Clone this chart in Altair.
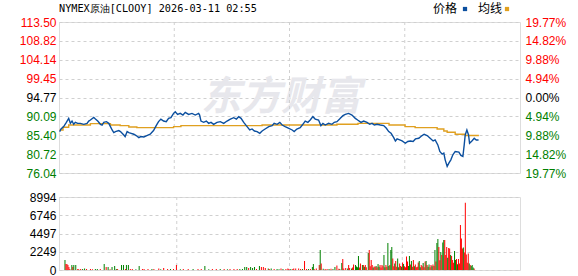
import altair as alt
import pandas as pd

# ---------------- data ----------------
title_text = "NYMEX原油[CLOOY] 2026-03-11 02:55"
legend_labels = ["价格", "均线"]
watermark = "东方财富"
prev_close = 94.77

# minutes since 06:00
price_t = [2, 6, 14, 22, 29, 34, 39, 44, 49, 56, 64, 74, 84, 89, 94, 104, 109, 116, 124, 129, 134, 142, 149, 154,
           159, 164, 169, 179, 184, 194, 198, 204, 209, 216, 224, 231, 239, 245, 254, 263, 273, 283, 291, 298, 305,
           313, 321, 328, 335, 343, 348, 355, 363, 371, 378, 388, 398, 408, 418, 421, 425, 433, 441, 448, 455, 463,
           473, 483, 493, 503, 513, 523, 531, 538, 545, 553, 563, 571, 578, 585, 593, 601, 608, 617, 628, 638, 644,
           653, 661, 668, 677, 688, 698, 704, 712, 722, 730, 737, 745, 752, 760, 767, 777, 784, 790, 797, 807, 817,
           824, 832, 840, 842, 850, 857, 867, 877, 887, 894, 904, 912, 922, 930, 937, 944, 952, 962, 972, 980, 987,
           994, 1002, 1007, 1012, 1020, 1027, 1037, 1044, 1052, 1060, 1067, 1077, 1087, 1093, 1102, 1111, 1120, 1126,
           1134, 1140, 1147, 1152, 1156, 1162, 1167, 1173, 1179, 1186, 1197, 1203, 1209, 1213, 1216, 1221, 1226, 1229,
           1236, 1243, 1249, 1256]
price_v = [86.31, 86.96, 87.55, 88.61, 89.60, 88.36, 88.93, 88.12, 88.61, 88.36, 88.36, 88.12, 88.36, 88.93, 89.18,
           89.84, 89.42, 88.93, 88.12, 87.94, 88.61, 88.78, 88.36, 87.55, 86.71, 86.07, 86.31, 86.56, 86.31, 85.48,
           85.08, 86.31, 86.07, 85.89, 85.65, 85.33, 84.83, 85.08, 84.98, 85.33, 85.65, 86.56, 87.80, 88.78, 89.42,
           88.93, 88.78, 89.60, 89.77, 90.83, 91.25, 90.58, 90.83, 90.41, 91.08, 90.58, 90.83, 90.41, 90.83, 90.41,
           88.93, 88.61, 88.93, 88.36, 88.61, 88.12, 88.61, 88.78, 88.36, 88.93, 89.42, 89.77, 89.42, 90.02, 89.60,
           88.61, 87.55, 86.71, 86.96, 86.46, 86.31, 85.89, 86.46, 86.96, 87.55, 87.80, 88.36, 88.12, 88.61, 87.94,
           87.55, 87.13, 86.71, 86.31, 86.96, 87.30, 88.12, 88.93, 88.61, 89.18, 90.02, 89.42, 89.18, 87.80, 88.36,
           87.94, 88.36, 88.12, 88.61, 88.78, 89.42, 89.60, 90.26, 90.58, 90.83, 90.41, 89.60, 89.18, 88.61, 88.93,
           88.61, 88.12, 88.36, 87.94, 88.12, 87.94, 87.80, 87.13, 86.31, 85.89, 84.83, 83.99, 84.49, 84.24, 83.99,
           83.43, 83.85, 83.99, 83.85, 84.49, 84.66, 85.33, 85.65, 85.33, 84.66, 83.99, 84.24, 83.01, 81.38, 80.71,
           80.96, 79.30, 77.68, 78.49, 79.30, 80.54, 81.38, 81.21, 80.39, 80.14, 83.01, 85.48, 86.71, 85.48, 83.43,
           83.99, 84.66, 84.24, 84.24]

avg_t = [2, 12, 29, 94, 154, 183, 209, 233, 343, 365, 608, 832, 895, 988, 1036, 1066, 1132, 1152, 1162, 1186, 1216, 1257]
avg_v = [86.71, 87.38, 87.94, 88.29, 87.94, 87.80, 87.45, 87.30, 87.55, 87.80, 87.94, 88.12, 88.36, 87.94, 87.55,
         87.30, 86.96, 86.46, 86.14, 85.65, 85.33, 85.33]

spike_t = [3, 6, 9, 12, 15, 24, 27, 30, 36, 42, 51, 63, 81, 102, 123, 129, 135, 147, 155, 164, 176, 182, 191, 197,
           209, 230, 245, 269, 290, 305, 326, 344, 365, 395, 431, 454, 478, 508, 538, 553, 559, 565, 571, 577, 583,
           598, 604, 610, 616, 625, 634, 643, 652, 664, 679, 694, 709, 724, 670, 685, 703, 718, 736, 748, 760, 763,
           772, 781, 784, 787, 799, 811, 829, 835, 844, 850, 853, 862, 871, 880, 886, 892, 895, 901, 907, 913, 916,
           922, 931, 934, 940, 943, 949, 955, 961, 967, 973, 979, 985, 991, 997, 1000, 1003, 1006, 1012, 1015, 1021,
           1027, 1036, 1039, 1048, 1051, 1057, 1060, 1063, 1069, 1075, 1084, 1087, 1093, 1099, 1105, 1108, 1111,
           1117, 1123, 1129, 1135, 1138, 1141, 1144, 1147, 1153, 1156, 1159, 1162, 1165, 1168, 1171, 1177, 1180,
           1183, 1186, 1189, 1195, 1198, 1201, 1207, 1210, 1213, 1216, 1219, 1222, 1225, 1228, 1231, 1237, 1240,
           1243, 1246, 1249, 1255]
spike_v = [1230, 740, 740, 615, 370, 615, 370, 615, 615, 123, 123, 185, 123, 123, 740, 370, 370, 370, 490, 123, 615,
           615, 615, 615, 123, 490, 123, 123, 185, 246, 123, 615, 123, 123, 490, 123, 123, 123, 123, 370, 370, 246,
           370, 246, 370, 490, 370, 370, 246, 185, 185, 123, 123, 185, 123, 123, 185, 123, 123, 185, 185, 185, 1110,
           123, 370, 740, 185, 615, 2460, 800, 123, 123, 370, 550, 123, 860, 1350, 246, 615, 185, 680, 615, 430,
           1720, 800, 615, 615, 615, 2090, 2460, 1230, 615, 430, 490, 740, 615, 615, 1850, 615, 3320, 615, 2460,
           2830, 1415, 800, 1110, 1415, 800, 920, 740, 1660, 1045, 1720, 680, 1110, 1230, 680, 920, 1110, 615, 860,
           1045, 1110, 615, 680, 615, 680, 2460, 1045, 3320, 3810, 2830, 2210, 1850, 3380, 3690, 3690, 1850, 2830,
           2700, 2640, 1850, 1720, 1230, 2340, 1230, 1350, 1350, 800, 5540, 3870, 2640, 2770, 2150, 8300, 1900, 2030,
           800, 615, 490, 615, 185]
spike_c = ["g", "r", "r", "r", "r", "g", "r", "g", "g", "r", "r", "g", "r", "g", "g", "r", "g", "g", "g", "r", "g",
           "g", "g", "g", "r", "g", "r", "g", "r", "r", "g", "r", "r", "g", "g", "r", "g", "r", "g", "g", "g", "r",
           "g", "g", "g", "g", "r", "r", "r", "g", "g", "r", "g", "r", "r", "g", "r", "r", "g", "r", "r", "r", "r",
           "g", "g", "g", "r", "r", "g", "r", "r", "g", "g", "r", "g", "g", "r", "r", "r", "g", "r", "g", "g", "g",
           "r", "g", "r", "r", "g", "r", "r", "r", "r", "g", "g", "r", "r", "g", "r", "g", "r", "g", "g", "r", "g",
           "r", "g", "r", "r", "g", "r", "r", "g", "r", "g", "r", "r", "r", "g", "r", "g", "r", "g", "r", "g", "r",
           "r", "g", "r", "g", "g", "r", "g", "r", "g", "g", "r", "r", "r", "r", "r", "g", "r", "r", "g", "g", "r",
           "r", "r", "r", "r", "r", "g", "r", "r", "r", "r", "g", "r", "g", "g", "r"]

base_t = [18, 45, 57, 69, 87, 96, 111, 141, 160, 188, 203, 220, 240, 257, 275, 296, 317, 335, 356, 380, 410, 420,
          443, 466, 490, 500, 520, 530, 546, 589, 628, 658, 688, 700, 730, 742, 754, 766, 793, 805, 817, 823, 841,
          856, 868, 874, 883, 898, 904, 919, 925, 937, 946, 952, 958, 964, 970, 976, 982, 988, 994, 1009, 1018,
          1024, 1030, 1033, 1042, 1045, 1054, 1066, 1072, 1078, 1081, 1090, 1096, 1102, 1114, 1120, 1126, 1132,
          1150, 1174, 1192, 1204, 1234, 1252]
base_v = [120, 100, 110, 130, 90, 110, 120, 100, 130, 110, 120, 100, 120, 110, 130, 100, 120, 110, 100, 120, 110,
          130, 100, 120, 110, 100, 130, 110, 120, 110, 120, 100, 130, 120, 110, 130, 120, 100, 140, 120, 150, 130,
          160, 200, 180, 250, 300, 350, 300, 400, 350, 450, 300, 400, 350, 400, 300, 450, 350, 400, 500, 450, 400,
          350, 500, 400, 450, 350, 500, 400, 450, 350, 400, 350, 450, 350, 400, 350, 450, 500, 1200, 1500, 900, 700,
          900, 300]
base_c = ["r", "r", "g", "r", "r", "g", "r", "r", "g", "r", "r", "g", "r", "r", "r", "g", "r", "r", "g", "r", "r",
          "r", "g", "r", "r", "g", "r", "r", "g", "r", "r", "g", "r", "r", "g", "r", "r", "r", "g", "r", "r", "g",
          "r", "r", "g", "r", "r", "g", "r", "g", "r", "r", "g", "r", "r", "g", "r", "r", "g", "r", "g", "r", "r",
          "g", "r", "g", "r", "r", "g", "r", "g", "r", "r", "g", "r", "r", "g", "r", "g", "r", "r", "g", "r", "g",
          "r", "g"]

left_ticks = [113.50, 108.82, 104.14, 99.45, 94.77, 90.09, 85.40, 80.72, 76.04]
right_labels = ["19.77%", "14.82%", "9.88%", "4.94%", "0.00%", "4.94%", "9.88%", "14.82%", "19.77%"]
x_label_pos = [24, 305, 611, 931, 1191]
x_labels = ["06:00", "12:00", "17:30", "23:30", "05:00"]
grid_x = [345, 690, 1035]
vol_ticks = [0, 2249, 4497, 6746, 8994]

# ---------------- styles ----------------
BLUE = "#0b4f9f"
GOLD = "#e0a020"
RED = "#ff0000"
GREEN = "#008000"
GRID = "#d0d0d0"
FONT = "Liberation Sans"

price_df = pd.DataFrame({"t": price_t, "p": price_v})
avg_df = pd.DataFrame({"t": avg_t, "a": avg_v})
vol_df = pd.DataFrame({"t": spike_t + base_t, "v": spike_v + base_v, "c": spike_c + base_c})
grid_df = pd.DataFrame({"g": grid_x})


def chain(pos, labels):
    s = "''"
    for p, l in reversed(list(zip(pos, labels))):
        s = f"abs(datum.value - {p}) < 0.01 ? '{l}' : ({s})"
    return s


color_cond = {
    "condition": [
        {"test": f"datum.value > {prev_close + 0.01}", "value": RED},
        {"test": f"datum.value > {prev_close - 0.01}", "value": "#000000"},
    ],
    "value": GREEN,
}

xs = alt.Scale(domain=[0, 1380], nice=False, zero=False)
ys = alt.Scale(domain=[left_ticks[-1], left_ticks[0]], nice=False, zero=False)

W, H1, H2 = 461, 151, 73

wm = alt.Chart(pd.DataFrame({"w": [watermark]})).mark_text(
    font="Noto Sans CJK SC", fontSize=40, fontWeight="bold", fontStyle="italic",
    color="#e7e7ec", align="center", baseline="middle"
).encode(text="w:N", x=alt.value(222), y=alt.value(76))

vgrid = alt.Chart(grid_df).mark_rule(color=GRID, strokeDash=[3, 3], strokeWidth=1).encode(
    x=alt.X("g:Q", scale=xs, axis=None)
)

avg_line = alt.Chart(avg_df).mark_line(color=GOLD, strokeWidth=1.4, interpolate="step-after").encode(
    x=alt.X("t:Q", scale=xs, axis=None),
    y=alt.Y("a:Q", scale=ys, axis=alt.Axis(
        orient="right", values=left_ticks, labelExpr=chain(left_ticks, right_labels),
        grid=False, ticks=False, domain=False, labelPadding=5, labelColor=color_cond,
        labelFont=FONT, labelFontSize=12, title=None)),
)

price_line = alt.Chart(price_df).mark_line(color=BLUE, strokeWidth=1.4).encode(
    x=alt.X("t:Q", scale=xs, axis=alt.Axis(
        values=x_label_pos, labelExpr=chain(x_label_pos, x_labels), grid=False, ticks=False,
        domain=False, labelFont=FONT, labelFontSize=11, labelPadding=4, labelColor="#000000",
        labelFlush=False, title=None)),
    y=alt.Y("p:Q", scale=ys, axis=alt.Axis(
        orient="left", values=left_ticks, labelExpr="format(datum.value, '.2f')",
        grid=True, gridDash=[3, 3], gridColor=GRID, ticks=False, domain=False, labelPadding=3,
        labelColor=color_cond, labelFont=FONT, labelFontSize=12, title=None)),
)

title_mark = alt.Chart(pd.DataFrame({"s": [title_text]})).mark_text(
    font="DejaVu Sans Mono", fontSize=10.2, align="left", baseline="middle", color="#000000"
).encode(text="s:N", x=alt.value(0), y=alt.value(-13))

leg_txt = alt.Chart(pd.DataFrame({"s": legend_labels, "px": [374, 419]})).mark_text(
    font="Noto Sans CJK SC", fontSize=12, align="left", baseline="middle", color="#000000"
).encode(text="s:N", x=alt.X("px:Q", scale=None), y=alt.value(-13))

leg_sq = alt.Chart(pd.DataFrame({"k": legend_labels, "px": [406, 448]})).mark_square(
    size=18, opacity=1, filled=True
).encode(
    x=alt.X("px:Q", scale=None), y=alt.value(-13),
    color=alt.Color("k:N", scale=alt.Scale(domain=legend_labels, range=[BLUE, GOLD]), legend=None),
)

main = alt.layer(wm, vgrid, avg_line, price_line, title_mark, leg_txt, leg_sq).resolve_scale(
    y="independent", color="independent"
).properties(width=W, height=H1)

vgrid2 = alt.Chart(grid_df).mark_rule(color=GRID, strokeDash=[3, 3], strokeWidth=1).encode(
    x=alt.X("g:Q", scale=xs, axis=None)
)
bars = alt.Chart(vol_df).mark_bar(size=1).encode(
    x=alt.X("t:Q", scale=xs, axis=None),
    y=alt.Y("v:Q", scale=alt.Scale(domain=[0, vol_ticks[-1]], nice=False), axis=alt.Axis(
        values=vol_ticks, format="d", grid=True, gridDash=[3, 3], gridColor=GRID, ticks=False,
        domain=False, labelPadding=3, labelColor="#000000", labelFont=FONT, labelFontSize=12, title=None)),
    color=alt.Color("c:N", scale=alt.Scale(domain=["r", "g"], range=[RED, GREEN]), legend=None),
)
vol = alt.layer(vgrid2, bars).properties(width=W, height=H2)

chart = alt.vconcat(main, vol, spacing=24, bounds="flush").properties(
    padding={"left": 18, "top": 2, "right": 5, "bottom": 5}
).configure_view(stroke="#999999", strokeWidth=1).configure(background="white")

chart.save("out.html", embed_options={"renderer": "svg", "actions": False})
